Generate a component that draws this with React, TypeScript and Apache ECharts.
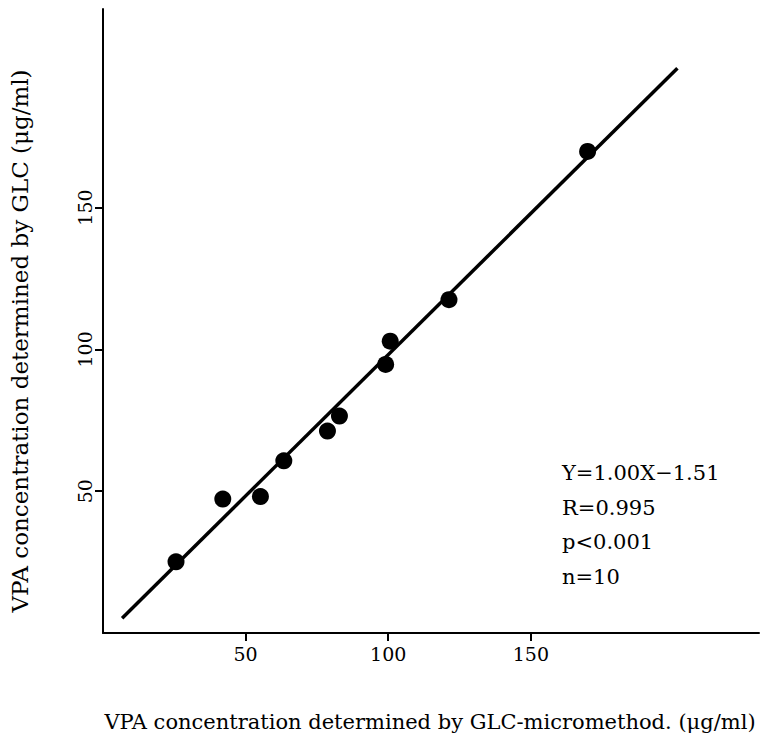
import React, { useEffect, useRef } from "react";
import * as echarts from "echarts";

const tickValues = [50, 100, 150];
const xValues = [25.6, 42.0, 55.2, 63.4, 78.7, 82.9, 99.1, 100.7, 121.3, 169.9];
const yValues = [25.1, 47.2, 48.1, 60.7, 71.2, 76.5, 94.7, 102.9, 117.5, 169.8];
const lineX = [6.7, 201.4];
const lineY = [5.2, 199.1];
const statsLines = ["Y=1.00X−1.51", "R=0.995", "p<0.001", "n=10"];
const xTitle = "VPA concentration determined by GLC-micromethod. (μg/ml)";
const yTitle = "VPA concentration determined by GLC (μg/ml)";

const FONT = "DejaVu Serif";

export default function App() {
  const ref = useRef<HTMLDivElement>(null);
  useEffect(() => {
    document.body.style.margin = "0";
    if (!ref.current) return;
    const chart = echarts.init(ref.current, null, { renderer: "svg" });
    const points = xValues.map((x, i) => [x, yValues[i]]);
    const line = lineX.map((x, i) => [x, lineY[i]]);
    chart.setOption({
      animation: false,
      backgroundColor: "#ffffff",
      grid: { left: 103, right: 2, top: 9, bottom: 121 },
      xAxis: {
        type: "value",
        min: 0,
        max: 230,
        interval: 50,
        axisLine: { show: true, lineStyle: { color: "#000", width: 2 } },
        axisTick: { show: true, customValues: tickValues, length: 8, lineStyle: { color: "#000", width: 2 } },
        axisLabel: { customValues: tickValues, color: "#000", fontFamily: FONT, fontSize: 19, margin: 11 },
        splitLine: { show: false },
      },
      yAxis: {
        type: "value",
        min: 0,
        max: 220,
        interval: 50,
        axisLine: { show: true, lineStyle: { color: "#000", width: 2 } },
        axisTick: { show: true, customValues: tickValues, length: 8, lineStyle: { color: "#000", width: 2 } },
        axisLabel: { customValues: tickValues, color: "#000", fontFamily: FONT, fontSize: 19, rotate: 90, margin: 9 },
        splitLine: { show: false },
      },
      series: [
        {
          type: "line",
          data: line,
          symbol: "none",
          lineStyle: { color: "#000", width: 3.5 },
          silent: true,
        },
        {
          type: "scatter",
          data: points,
          symbol: "circle",
          symbolSize: 17,
          itemStyle: { color: "#000", opacity: 1 },
        },
      ],
      graphic: [
        {
          type: "text",
          x: 430,
          y: 722,
          style: {
            text: xTitle,
            fontFamily: FONT,
            fontSize: 21,
            fill: "#000",
            align: "center",
            verticalAlign: "middle",
          },
        },
        {
          type: "text",
          x: 20,
          y: 341,
          rotation: Math.PI / 2,
          style: {
            text: yTitle,
            fontFamily: FONT,
            fontSize: 23,
            fill: "#000",
            align: "center",
            verticalAlign: "middle",
          },
        },
        ...statsLines.map((t, i) => ({
          type: "text",
          x: 562,
          y: [473, 508, 542, 577][i],
          style: { text: t, fontFamily: FONT, fontSize: 21, fill: "#000", verticalAlign: "middle" },
        })),
      ],
    });
    return () => chart.dispose();
  }, []);
  return <div ref={ref} style={{ width: 761, height: 754 }} />;
}
